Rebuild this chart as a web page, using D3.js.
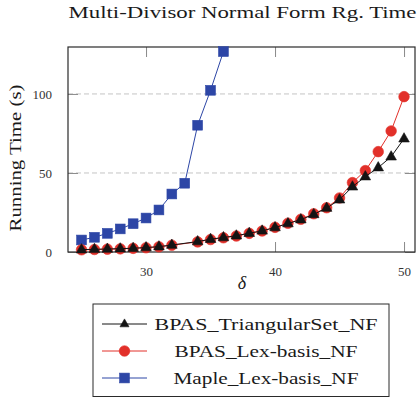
<!DOCTYPE html>
<html>
<head>
<meta charset="utf-8">
<script src="https://cdn.jsdelivr.net/npm/d3@7"></script>
<style>
  html, body { margin: 0; padding: 0; background: #fff; }
  svg { display: block; }
</style>
</head>
<body>
<svg id="chart" width="419" height="398"></svg>
<script>
// ---- Data ----
const deltaTS = [25, 26, 27, 28, 29, 30, 31, 32, 34, 35, 36, 37, 38, 39, 40, 41, 42, 43, 44, 45, 46, 47, 48, 49, 50];
const bpasTriangularSet = [1.5, 1.7, 1.9, 2.1, 2.4, 2.8, 3.4, 4.4, 6.6, 8.1, 9.2, 10.3, 11.9, 13.4, 15.5, 18.0, 20.5, 23.8, 27.8, 33.1, 41.3, 47.7, 53.4, 60.3, 71.7];
const bpasLexBasis = [1.4, 1.6, 1.8, 2.0, 2.3, 2.7, 3.3, 4.3, 6.4, 7.9, 9.0, 10.1, 11.8, 13.3, 15.6, 18.2, 20.7, 24.2, 28.0, 34.2, 43.9, 51.5, 63.5, 76.6, 98.3];
const deltaMaple = [25, 26, 27, 28, 29, 30, 31, 32, 33, 34, 35, 36];
const mapleLexBasis = [7.6, 9.3, 11.8, 14.6, 17.9, 21.5, 26.6, 36.7, 43.5, 80.2, 102.3, 126.8];
const xTicks = [30, 40, 50];
const yTicks = [0, 50, 100];
const seriesNames = ["BPAS_TriangularSet_NF", "BPAS_Lex-basis_NF", "Maple_Lex-basis_NF"];
const titleText = "Multi-Divisor Normal Form Rg. Time";
const xLabel = "δ";
const yLabel = "Running Time (s)";

const FONT = "'Liberation Serif', 'Times New Roman', Times, serif";

// ---- Layout ----
const svg = d3.select("#chart");
const L = 68, R = 415, T = 47, B = 252;
const x = d3.scaleLinear().domain([23.95, 50.85]).range([L, R]);
const y = d3.scaleLinear().domain([0, 129.7]).range([B, T]);

const COL_BLACK = "#141414", COL_RED = "#e2302a", COL_BLUE = "#2d46a6";

function txt(g) { return g.append("text").style("font-family", FONT).style("fill", "#1a1a1a"); }

// Title
txt(svg).attr("x", 242.5).attr("y", 17.5)
  .attr("text-anchor", "middle").style("font-size", "16px")
  .attr("textLength", 348).attr("lengthAdjust", "spacingAndGlyphs")
  .text(titleText);

// Grid lines (y major, dashed)
const defs = svg.append("defs");
defs.append("clipPath").attr("id", "clip").append("rect")
  .attr("x", L).attr("y", T - 6).attr("width", R - L + 6).attr("height", B - T + 12);

svg.append("g").selectAll("line").data(yTicks.filter(d => d > 0)).join("line")
  .attr("x1", L).attr("x2", R).attr("y1", d => y(d)).attr("y2", d => y(d))
  .attr("stroke", "#c4c4c4").attr("stroke-width", 1).attr("stroke-dasharray", "5,3");

// Axes with inward ticks
const tickLen = 10;
const xAxisB = d3.axisBottom(x).tickValues(xTicks).tickSize(-tickLen).tickPadding(tickLen + 5);
const gxb = svg.append("g").attr("transform", `translate(0,${B})`).call(xAxisB);
const xAxisT = d3.axisTop(x).tickValues(xTicks).tickSize(-tickLen).tickFormat("");
const gxt = svg.append("g").attr("transform", `translate(0,${T})`).call(xAxisT);
const yAxisL = d3.axisLeft(y).tickValues(yTicks).tickSize(-tickLen).tickPadding(tickLen + 6);
const gyl = svg.append("g").attr("transform", `translate(${L},0)`).call(yAxisL);
const yAxisR = d3.axisRight(y).tickValues(yTicks).tickSize(-tickLen).tickFormat("");
const gyr = svg.append("g").attr("transform", `translate(${R},0)`).call(yAxisR);
[gxb, gxt, gyl, gyr].forEach(g => {
  g.attr("font-family", null).attr("font-size", null);
  g.select(".domain").remove();
  g.selectAll(".tick line").attr("stroke", "#8a8a8a").attr("stroke-width", 1);
  g.selectAll(".tick text").style("font-family", FONT).style("font-size", "13px").attr("fill", "#333");
});
gyl.selectAll(".tick text").attr("dy", "0.35em");

// Frame
svg.append("rect").attr("x", L).attr("y", T).attr("width", R - L).attr("height", B - T)
  .attr("fill", "none").attr("stroke", "#2a2a2a").attr("stroke-width", 1.2);

// Axis labels
txt(svg).attr("x", 242).attr("y", 289).attr("text-anchor", "middle")
  .style("font-size", "18px").style("font-style", "italic").text(xLabel);
txt(svg).attr("transform", `translate(21,${158}) rotate(-90)`)
  .attr("text-anchor", "middle").style("font-size", "17px")
  .attr("textLength", 147).attr("lengthAdjust", "spacingAndGlyphs")
  .text(yLabel);

// Markers
function triPath(s) { return `M0,${-6*s}L${5.3*s},${3.3*s}L${-5.3*s},${3.3*s}Z`; }
function drawMarker(g, type, color, cx, cy, s = 1) {
  if (type === "tri") {
    g.append("path").attr("d", triPath(s)).attr("transform", `translate(${cx},${cy})`)
      .attr("fill", color).attr("stroke", color).attr("stroke-width", 0.6);
  } else if (type === "circle") {
    g.append("circle").attr("cx", cx).attr("cy", cy).attr("r", 5.3 * s)
      .attr("fill", color).attr("stroke", color).attr("stroke-width", 0.6);
  } else {
    const h = 4.9 * s;
    g.append("rect").attr("x", cx - h).attr("y", cy - h).attr("width", 2 * h).attr("height", 2 * h)
      .attr("fill", color).attr("stroke", color).attr("stroke-width", 0.6);
  }
}

const plot = svg.append("g").attr("clip-path", "url(#clip)");
const line = d3.line().x(d => x(d[0])).y(d => y(d[1]));

function series(xs, ys, color, type) {
  const pts = xs.map((d, i) => [d, ys[i]]);
  const g = plot.append("g");
  g.append("path").datum(pts).attr("d", line).attr("fill", "none")
    .attr("stroke", color).attr("stroke-width", 1);
  pts.forEach(p => drawMarker(g, type, color, x(p[0]), y(p[1])));
}
series(deltaMaple, mapleLexBasis, COL_BLUE, "square");
series(deltaTS, bpasLexBasis, COL_RED, "circle");
series(deltaTS, bpasTriangularSet, COL_BLACK, "tri");

// Legend
const lg = svg.append("g");
lg.append("rect").attr("x", 93).attr("y", 304).attr("width", 296).attr("height", 92.5)
  .attr("fill", "#fff").attr("stroke", "#2a2a2a").attr("stroke-width", 1);
const legendItems = [
  { name: seriesNames[0], color: COL_BLACK, type: "tri", y: 324 },
  { name: seriesNames[1], color: COL_RED, type: "circle", y: 351 },
  { name: seriesNames[2], color: COL_BLUE, type: "square", y: 378 }
];
const legendWidths = [223, 183, 185];
legendItems.forEach((it, i) => {
  lg.append("line").attr("x1", 102).attr("x2", 147).attr("y1", it.y).attr("y2", it.y)
    .attr("stroke", it.color).attr("stroke-width", 1);
  drawMarker(lg, it.type, it.color, 124.5, it.y, it.type === "tri" ? 0.85 : 1);
  txt(lg).attr("x", 266).attr("y", it.y).attr("dy", "0.35em")
    .attr("text-anchor", "middle").style("font-size", "17px")
    .attr("textLength", legendWidths[i]).attr("lengthAdjust", "spacingAndGlyphs")
    .text(it.name);
});
</script>
</body>
</html>
